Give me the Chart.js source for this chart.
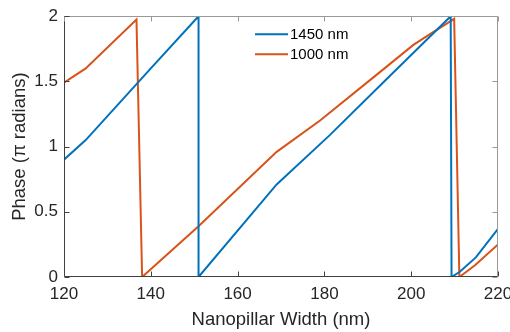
<!DOCTYPE html>
<html>
<head>
<meta charset="utf-8">
<script src="https://cdn.jsdelivr.net/npm/chart.js@4.4.0/dist/chart.umd.min.js"></script>
<style>
  html, body { margin: 0; padding: 0; background: #fff; }
  #wrap { width: 510px; height: 332px; }
</style>
</head>
<body>
<div id="wrap"><canvas id="c" width="510" height="332"></canvas></div>
<script>
// valores
const seriesNames = ['1450 nm', '1000 nm'];

const blueX = [120, 125, 140, 151, 151, 169, 181.3, 195, 209.1, 209.3, 211.2, 214.9, 220];
const blueY = [0.9, 1.05, 1.6, 2.0, 0, 0.71, 1.09, 1.54, 2.0, 0, 0.04, 0.15, 0.37];

const orangeX = [120, 125, 136.7, 138, 151, 169, 179, 192, 200.5, 204.7, 209.9, 211.1, 214.7, 220];
const orangeY = [1.49, 1.6, 1.975, 0, 0.39, 0.96, 1.2, 1.55, 1.78, 1.87, 1.98, 0, 0.09, 0.25];

const xTicks = [120, 140, 160, 180, 200, 220];
const yTicks = [0, 0.5, 1, 1.5, 2];

const blue = '#0072BD';
const orange = '#D95319';
const fontFamily = '"Liberation Sans", Arial, sans-serif';

function toPoints(xs, ys) {
    return xs.map((x, i) => ({ x: x, y: ys[i] }));
}

// moldura e marcas para dentro, estilo matlab
const framePlugin = {
    id: 'frame',
    afterDraw(chart) {
        const ctx = chart.ctx;
        const a = chart.chartArea;
        const xs = chart.scales.x, ys = chart.scales.y;
        const L = Math.round(a.left) + 0.5, R = Math.round(a.right) - 0.5;
        const T = Math.round(a.top) + 0.5, B = Math.round(a.bottom) - 0.5;
        ctx.save();
        ctx.lineWidth = 1;
        ctx.strokeStyle = '#999999';
        ctx.beginPath();
        ctx.moveTo(L, T); ctx.lineTo(R, T); ctx.lineTo(R, B);
        ctx.stroke();
        ctx.strokeStyle = '#404040';
        ctx.beginPath();
        ctx.moveTo(L, T); ctx.lineTo(L, B); ctx.lineTo(R, B);
        ctx.stroke();
        const tl = 5;
        xTicks.forEach(v => {
            const px = Math.round(xs.getPixelForValue(v)) + 0.5;
            ctx.strokeStyle = '#404040';
            ctx.beginPath(); ctx.moveTo(px, B); ctx.lineTo(px, B - tl); ctx.stroke();
            ctx.strokeStyle = '#999999';
            ctx.beginPath(); ctx.moveTo(px, T); ctx.lineTo(px, T + tl); ctx.stroke();
        });
        yTicks.forEach(v => {
            const py = Math.round(ys.getPixelForValue(v)) + 0.5;
            ctx.strokeStyle = '#404040';
            ctx.beginPath(); ctx.moveTo(L, py); ctx.lineTo(L + tl, py); ctx.stroke();
            ctx.strokeStyle = '#999999';
            ctx.beginPath(); ctx.moveTo(R, py); ctx.lineTo(R - tl, py); ctx.stroke();
        });
        ctx.restore();
    }
};

// legenda dentro do gráfico, sem caixa
const legendPlugin = {
    id: 'inlineLegend',
    afterDatasetsDraw(chart) {
        const ctx = chart.ctx;
        const a = chart.chartArea;
        const x0 = a.left + 191;
        ctx.save();
        ctx.font = '15px ' + fontFamily;
        ctx.textBaseline = 'middle';
        ctx.fillStyle = '#000000';
        chart.data.datasets.forEach((ds, i) => {
            const y = a.top + 18 + i * 20;
            ctx.strokeStyle = ds.borderColor;
            ctx.lineWidth = 2;
            ctx.beginPath(); ctx.moveTo(x0, y); ctx.lineTo(x0 + 33, y); ctx.stroke();
            ctx.fillText(ds.label, x0 + 35, y + 1);
        });
        ctx.restore();
    }
};

const ctx = document.getElementById('c').getContext('2d');
const myChart = new Chart(ctx, {
    type: 'line',
    data: {
        datasets: [{
            label: seriesNames[0],
            data: toPoints(blueX, blueY),
            borderColor: blue,
            borderWidth: 2,
            pointRadius: 0,
            tension: 0,
            fill: false
        }, {
            label: seriesNames[1],
            data: toPoints(orangeX, orangeY),
            borderColor: orange,
            borderWidth: 2,
            pointRadius: 0,
            tension: 0,
            fill: false
        }]
    },
    options: {
        responsive: false,
        animation: false,
        layout: { padding: { top: 10, right: 12, left: 0, bottom: 0 } },
        plugins: {
            legend: { display: false },
            tooltip: { enabled: false }
        },
        scales: {
            x: {
                type: 'linear',
                min: 120,
                max: 220,
                afterBuildTicks: s => { s.ticks = xTicks.map(v => ({ value: v })); },
                afterFit: s => { s.height = 55; s.paddingLeft = 0; s.paddingRight = 0; },
                grid: { display: false, drawTicks: false },
                border: { display: false },
                ticks: {
                    padding: 7,
                    color: '#262626',
                    font: { family: fontFamily, size: 17 }
                },
                title: {
                    display: true,
                    text: 'Nanopillar Width (nm)',
                    color: '#262626',
                    padding: { top: 0, bottom: 1 },
                    font: { family: fontFamily, size: 18.5 }
                }
            },
            y: {
                min: 0,
                max: 2,
                afterBuildTicks: s => { s.ticks = yTicks.map(v => ({ value: v })); },
                afterFit: s => { s.width = 64; },
                grid: { display: false, drawTicks: false },
                border: { display: false },
                ticks: {
                    padding: 6,
                    color: '#262626',
                    font: { family: fontFamily, size: 17 },
                    callback: v => String(v)
                },
                title: {
                    display: true,
                    text: 'Phase (π radians)',
                    color: '#262626',
                    padding: { top: 9, bottom: 0 },
                    font: { family: fontFamily, size: 18.5 }
                }
            }
        }
    },
    plugins: [framePlugin, legendPlugin]
});
</script>
</body>
</html>
